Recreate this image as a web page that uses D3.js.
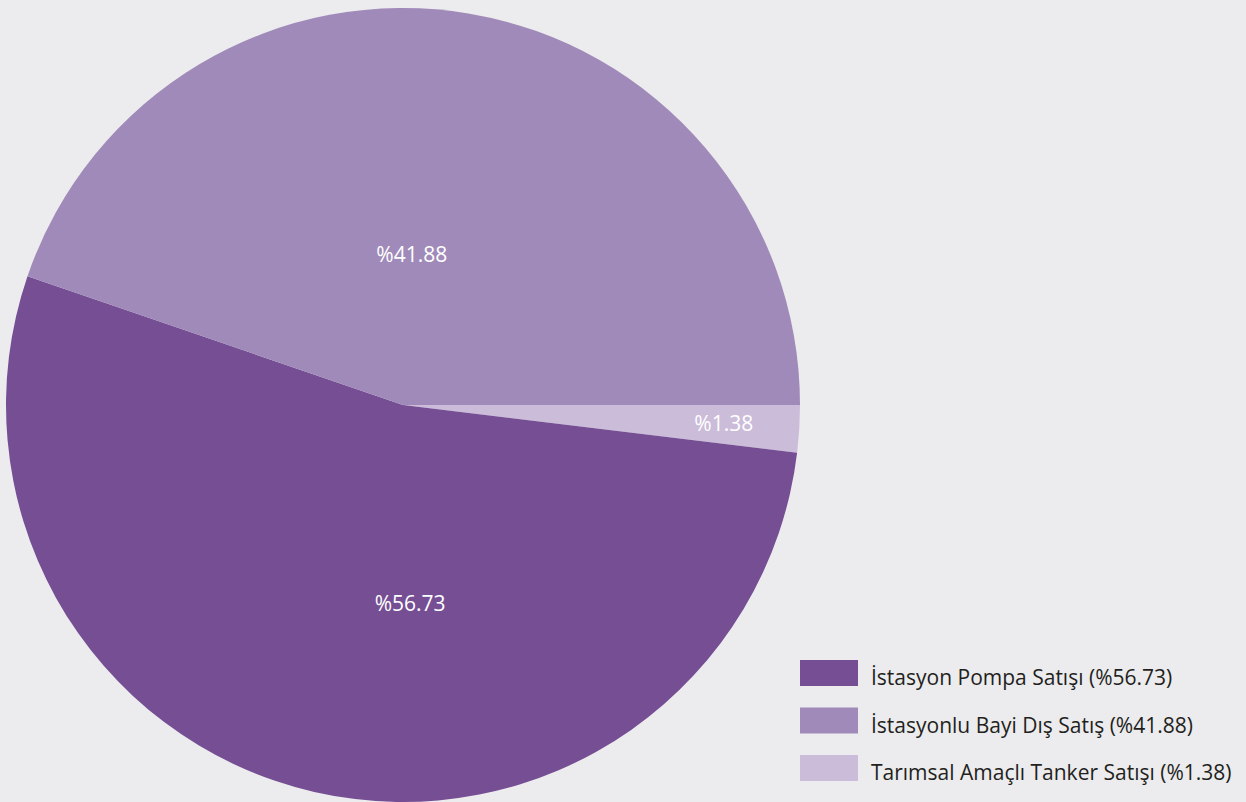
<!DOCTYPE html>
<html><head><meta charset="utf-8">
<script src="https://cdn.jsdelivr.net/npm/d3@7"></script>
<style>
html,body{margin:0;padding:0;background:#ececee;}
svg{display:block;}
</style></head>
<body>
<svg id="chart" width="1246" height="802"></svg>
<script>
// Categories (legend order)
const categories = ["İstasyon Pompa Satışı", "İstasyonlu Bayi Dış Satış", "Tarımsal Amaçlı Tanker Satışı"];
// Percentages as printed on the chart
const percentLabels = ["56.73", "41.88", "1.38"];
// Slice shares as drawn in the picture
const sliceShares = [53.34, 44.74, 1.92];
const colors = ["#764e94", "#a08ab9", "#cbbcd9"];

const svg = d3.select("#chart");
const cx = 403, cy = 405, R = 397;

// drawing order clockwise from 3 o'clock: small, dark, light
const drawOrder = [2, 0, 1];
const pie = d3.pie().sort(null).value(i => sliceShares[i])
  .startAngle(Math.PI / 2).endAngle(Math.PI / 2 + 2 * Math.PI);
const arcs = pie(drawOrder);
const arc = d3.arc().innerRadius(0).outerRadius(R);

const g = svg.append("g").attr("transform", `translate(${cx},${cy})`);
g.selectAll("path").data(arcs).join("path")
  .attr("d", arc)
  .attr("fill", d => colors[d.data]);

// label placement (offsets relative to pie centre, fraction of radius)
const labelPos = {0: [0.018, 0.50], 1: [0.022, -0.38], 2: [0.808, 0.048]};
g.selectAll("text.lbl").data(arcs).join("text")
  .attr("class", "lbl")
  .attr("x", d => labelPos[d.data][0] * R)
  .attr("y", d => labelPos[d.data][1] * R)
  .attr("dy", "0.35em")
  .attr("text-anchor", "middle")
  .attr("fill", "#ffffff")
  .style("font-family", "'Open Sans', sans-serif")
  .style("font-size", "21px")
  .text(d => "%" + percentLabels[d.data]);

// legend
const ly = d3.scalePoint().domain(d3.range(categories.length)).range([660, 755]);
const legend = svg.append("g");
const items = legend.selectAll("g").data(d3.range(categories.length)).join("g")
  .attr("transform", i => `translate(800,${ly(i)})`);
items.append("rect").attr("width", 58).attr("height", 26).attr("fill", i => colors[i]);
items.append("text")
  .attr("x", 71).attr("y", 18).attr("dy", "0.35em")
  .attr("fill", "#231f20")
  .style("font-family", "'Open Sans', sans-serif")
  .style("font-size", "21px")
  .text(i => `${categories[i]} (%${percentLabels[i]})`);
</script>
</body></html>
